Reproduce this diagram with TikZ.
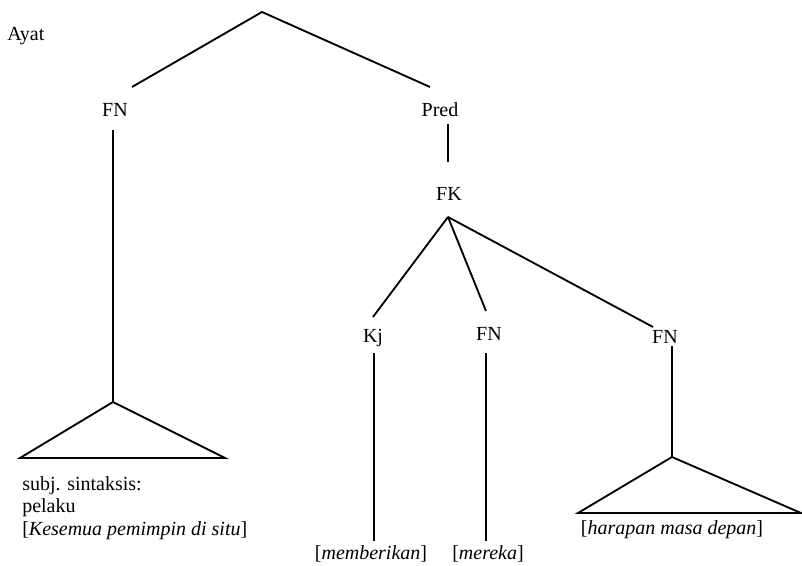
\documentclass[tikz,border=0pt]{standalone}
\usepackage{fontspec}
\setmainfont{Liberation Serif}
\begin{document}
\begin{tikzpicture}[x=0.75pt,y=-0.75pt,
  lbl/.style={font=\fontsize{15}{16.5}\selectfont, inner sep=0pt, anchor=base},
  lblw/.style={lbl, anchor=base west},
  edge/.style={line width=1.4pt, line join=miter},
  tri/.style={line width=1.4pt, line join=miter}]
\useasboundingbox (0,0) rectangle (802,566);
% labels
\node[lblw] (ayat) at (7,41) {Ayat};
\node[lbl] (fn1) at (115,117) {FN};
\node[lbl] (pred) at (440,117) {Pred};
\node[lbl] (fk) at (449,201) {FK};
\node[lbl] (kj) at (373,342) {Kj};
\node[lbl] (fn2) at (489,340) {FN};
\node[lbl] (fn3) at (665,343) {FN};
\node[lblw] (s1) at (22,490) {subj. sintaksis:};
\node[lblw] (s2) at (22,512) {pelaku};
\node[lblw] (s3) at (22,535) {[\textit{Kesemua pemimpin di situ}]};
\node[lbl] (w1) at (371,559) {[\textit{memberikan}]};
\node[lbl] (w2) at (488,559) {[\textit{mereka}]};
\node[lbl] (w3) at (672,534) {[\textit{harapan masa depan}]};
% coordinates
\coordinate (root) at (262,12);
\coordinate (fn1up) at (132,87);
\coordinate (predup) at (430,87);
\coordinate (fn1down) at (113,130);
\coordinate (t1top) at (113,402);
\coordinate (t1l) at (20,458);
\coordinate (t1r) at (225,458);
\coordinate (preddown) at (448,124);
\coordinate (fkup) at (448,162);
\coordinate (fkdown) at (448,217);
\coordinate (kjup) at (373,317);
\coordinate (fn2up) at (486,311);
\coordinate (fn3up) at (653,327);
\coordinate (kjdown) at (374,353);
\coordinate (w1up) at (374,541);
\coordinate (fn2down) at (486,353);
\coordinate (w2up) at (486,541);
\coordinate (fn3down) at (672,346);
\coordinate (t3top) at (672,457);
\coordinate (t3l) at (578,513);
\coordinate (t3r) at (801,513);
% edges
\draw[edge] (fn1up) -- (root) -- (predup);
\draw[edge] (fn1down) -- (t1top);
\draw[tri] (t1top) -- (t1l) -- (t1r) -- cycle;
\draw[edge] (preddown) -- (fkup);
\draw[edge] (fkdown) -- (kjup);
\draw[edge] (fkdown) -- (fn2up);
\draw[edge] (fkdown) -- (fn3up);
\draw[edge] (kjdown) -- (w1up);
\draw[edge] (fn2down) -- (w2up);
\draw[edge] (fn3down) -- (t3top);
\draw[tri] (t3top) -- (t3l) -- (t3r) -- cycle;
\end{tikzpicture}
\end{document}
